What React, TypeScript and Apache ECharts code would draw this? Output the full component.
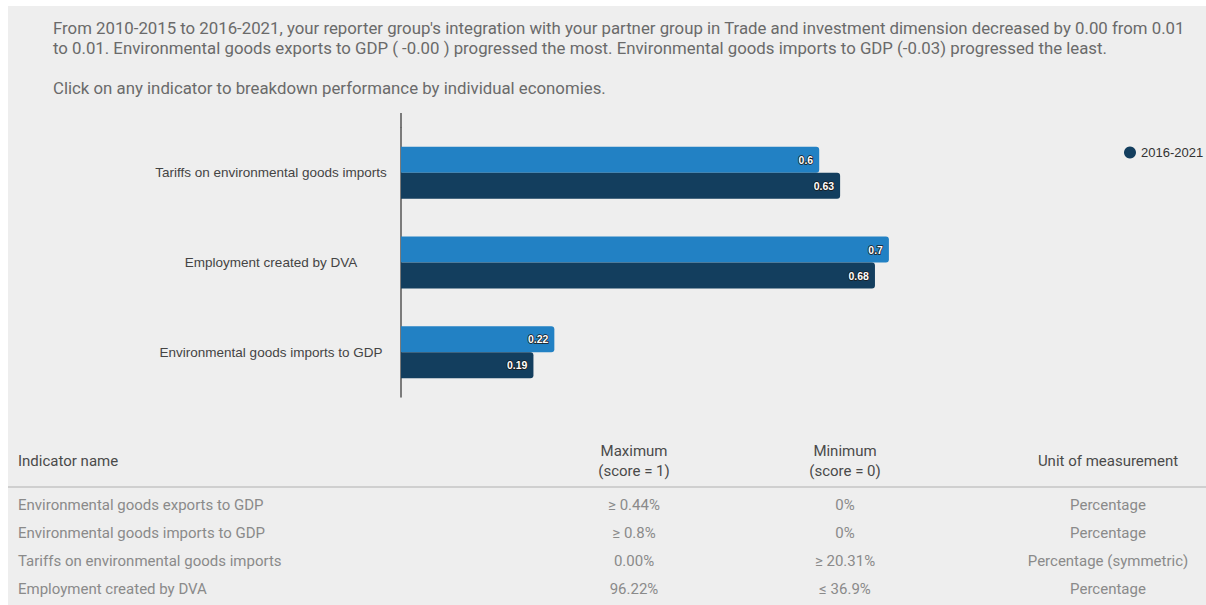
import React, { useEffect, useRef } from "react";
import * as echarts from "echarts";

const summaryLines = [
  "From 2010-2015 to 2016-2021, your reporter group's integration with your partner group in Trade and investment dimension decreased by 0.00 from 0.01",
  "to 0.01. Environmental goods exports to GDP ( -0.00 ) progressed the most. Environmental goods imports to GDP (-0.03) progressed the least.",
];
const clickHint = "Click on any indicator to breakdown performance by individual economies.";

const categories = [
  "Tariffs on environmental goods imports",
  "Employment created by DVA",
  "Environmental goods imports to GDP",
];
const seriesNames = ["2010-2015", "2016-2021"];
const values2010 = [0.6, 0.7, 0.22];
const values2016 = [0.63, 0.68, 0.19];

const tableHeaders = ["Indicator name", "Maximum\n(score = 1)", "Minimum\n(score = 0)", "Unit of measurement"];
const tableIndicators = [
  "Environmental goods exports to GDP",
  "Environmental goods imports to GDP",
  "Tariffs on environmental goods imports",
  "Employment created by DVA",
];
const tableMax = ["≥ 0.44%", "≥ 0.8%", "0.00%", "96.22%"];
const tableMin = ["0%", "0%", "≥ 20.31%", "≤ 36.9%"];
const tableUnit = ["Percentage", "Percentage", "Percentage (symmetric)", "Percentage"];

export default function App() {
  const ref = useRef<HTMLDivElement>(null);
  useEffect(() => {
    if (!ref.current) return;
    const chart = echarts.init(ref.current, undefined, { renderer: "svg" });
    const font = "Roboto, 'Open Sans', sans-serif";
    const sans = "'Liberation Sans', Arial, sans-serif";
    const colX = [18, 634, 845, 1108];
    const rowY = [505, 533, 561, 589];
    const graphics: any[] = [
      { type: "rect", z: -10, silent: true, shape: { x: 8, y: 6, width: 1198, height: 599 }, style: { fill: "#eeeeee" } },
      ...summaryLines.map((t, i) => ({
        type: "text", x: 53, y: 28 + i * 20,
        style: { text: t, fill: "#6a6a6a", font: `16.8px ${font}`, verticalAlign: "middle" },
      })),
      { type: "text", x: 53, y: 88, style: { text: clickHint, fill: "#6a6a6a", font: `16.8px ${font}`, verticalAlign: "middle" } },
      { type: "line", shape: { x1: 401, y1: 113, x2: 401, y2: 128 }, style: { stroke: "#555", lineWidth: 1.5 } },
      { type: "line", shape: { x1: 8, y1: 487, x2: 1206, y2: 487 }, style: { stroke: "#cfcfcf", lineWidth: 2 } },
    ];
    tableHeaders.forEach((h, i) => {
      graphics.push({
        type: "text", x: colX[i], y: 461,
        style: {
          text: h, fill: "#4a4a4a", font: `15px ${font}`, lineHeight: 20,
          align: i === 0 ? "left" : "center", verticalAlign: "middle",
        },
      });
    });
    const cols = [tableIndicators, tableMax, tableMin, tableUnit];
    cols.forEach((col, ci) => {
      col.forEach((t, ri) => {
        graphics.push({
          type: "text", x: colX[ci], y: rowY[ri],
          style: { text: t, fill: "#8a8a8a", font: `15px ${font}`, align: ci === 0 ? "left" : "center", verticalAlign: "middle" },
        });
      });
    });

    const labelCfg = {
      show: true, position: "insideRight", distance: 6,
      color: "#fff", fontSize: 10.5, fontWeight: "bold", fontFamily: sans,
      textBorderColor: "#1a1a1a", textBorderWidth: 1.5,
    };

    chart.setOption({
      animation: false,
      backgroundColor: "#ffffff",
      graphic: graphics,
      legend: {
        data: [seriesNames[1]], left: 1119, top: 141, icon: "circle", itemWidth: 12, itemHeight: 12,
        textStyle: { fontSize: 13, color: "#333", fontFamily: sans },
      },
      grid: { left: 401, right: 108, top: 128, bottom: 208, containLabel: false },
      xAxis: { type: "value", min: 0, max: 1, show: false, splitLine: { show: false } },
      yAxis: {
        type: "category", inverse: true, data: categories,
        axisLine: { show: true, lineStyle: { color: "#555", width: 1.5 } },
        axisTick: { show: false },
        axisLabel: {
          align: "center", margin: 130, fontSize: 13.5, color: "#444", fontFamily: sans,
        },
      },
      series: [
        {
          name: seriesNames[0], type: "bar", data: values2010, barWidth: 26, barGap: "0%",
          itemStyle: { color: "#2281c4", borderRadius: [0, 3, 3, 0] }, label: labelCfg,
        },
        {
          name: seriesNames[1], type: "bar", data: values2016, barWidth: 26, barGap: "0%",
          itemStyle: { color: "#133e5e", borderRadius: [0, 3, 3, 0] }, label: labelCfg,
        },
      ],
    });
    return () => chart.dispose();
  }, []);
  return <div ref={ref} style={{ position: "absolute", left: 0, top: 0, width: 1206, height: 605 }} />;
}
